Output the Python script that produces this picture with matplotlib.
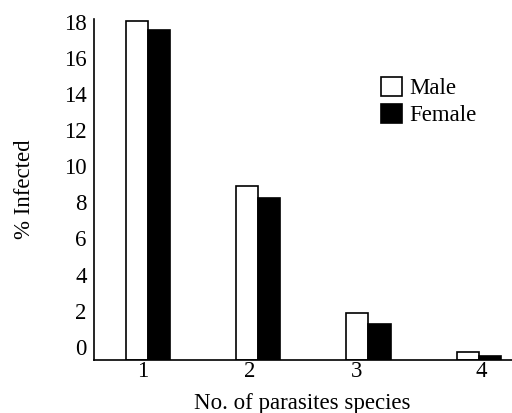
import matplotlib
matplotlib.use("Agg")
import matplotlib.pyplot as plt
import numpy as np

categories = ["1", "2", "3", "4"]
male = [18.05, 8.9, 1.85, -0.27]
female = [17.55, 8.22, 1.26, -0.5]
yticks = [0, 2, 4, 6, 8, 10, 12, 14, 16, 18]
xtick_pos = [0.955, 1.925, 2.895, 4.02]

plt.rcParams['font.family'] = ['Liberation Serif', 'DejaVu Serif']

W, H = 512, 413
fs = 16.5
fig = plt.figure(figsize=(W/100, H/100), dpi=100)
ax = fig.add_axes([93.5/W, 1 - 359.5/H, (512-93.5)/W, (359.5-19)/H])

base = -0.7
ymax = 18.14
x = np.arange(1, len(categories)+1)
w = 0.2
ax.bar(x - w/2, np.array(male) - base, w, bottom=base, color='white', edgecolor='black', linewidth=1.2, label='Male')
ax.bar(x + w/2, np.array(female) - base, w, bottom=base, color='black', edgecolor='black', linewidth=1.2, label='Female')

ax.set_xlim(0.51, 4.30)
ax.set_ylim(base, ymax)
ax.set_xticks(xtick_pos)
ax.set_xticklabels(categories, fontsize=fs)
ax.set_yticks(yticks)
ax.set_yticklabels([str(t) for t in yticks], fontsize=fs)
ax.tick_params(axis='y', length=0, pad=5)
ax.tick_params(axis='x', length=0, pad=1)
ax.spines['top'].set_visible(False)
ax.spines['right'].set_visible(False)
ax.spines['left'].set_linewidth(1.2)
ax.spines['bottom'].set_linewidth(1.2)

ax.set_xlabel('No. of parasites species', fontsize=fs, labelpad=8)
ax.set_ylabel('% Infected', fontsize=fs, labelpad=21)

leg = ax.legend(loc='upper left', bbox_to_anchor=((381-93.5)/(512-93.5), 1 - (77-19)/(359.5-19)),
                frameon=False, fontsize=fs, handlelength=0.9, handleheight=0.9,
                handletextpad=0.35, labelspacing=0.2, borderaxespad=0, borderpad=0)

fig.savefig('out.png', dpi=100)
